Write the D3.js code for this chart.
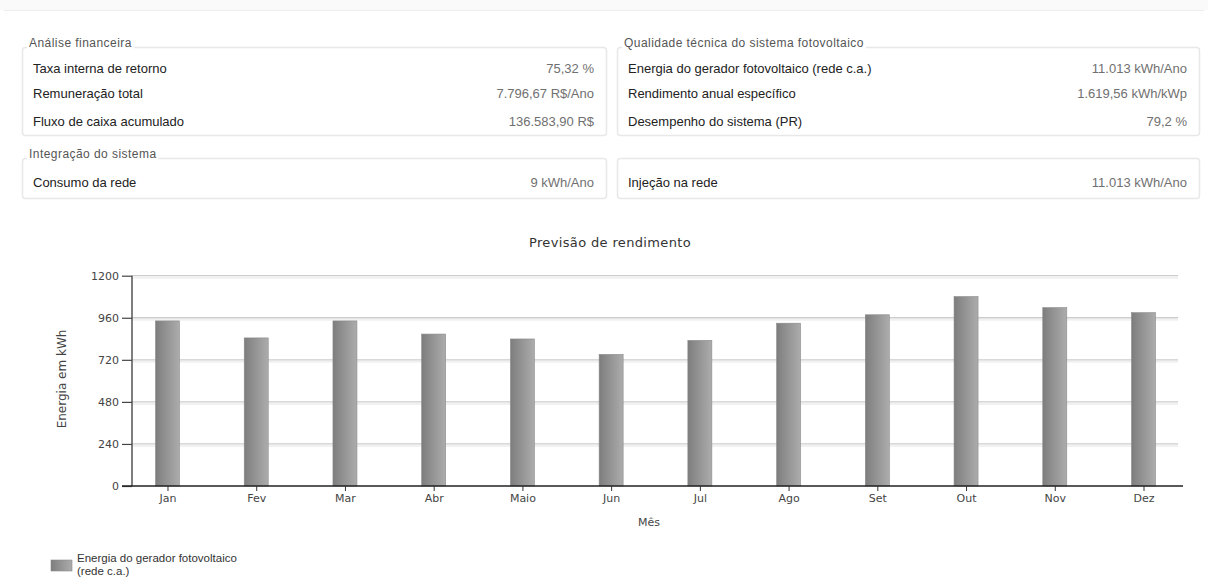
<!DOCTYPE html>
<html>
<head>
<meta charset="utf-8">
<script src="https://cdn.jsdelivr.net/npm/d3@7"></script>
<style>
  html, body { margin: 0; padding: 0; background: #ffffff; }
  svg { display: block; }
</style>
</head>
<body>
<svg id="chart" width="1208" height="585"></svg>
<script>
// ---------- data ----------
const months = ["Jan", "Fev", "Mar", "Abr", "Maio", "Jun", "Jul", "Ago", "Set", "Out", "Nov", "Dez"];
const energy = [942, 845, 942, 867, 839, 751, 831, 929, 977, 1081, 1018, 989];
const yTicks = [0, 240, 480, 720, 960, 1200];
const seriesName = ["Energia do gerador fotovoltaico", "(rede c.a.)"];

const finLabels = ["Taxa interna de retorno", "Remuneração total", "Fluxo de caixa acumulado"];
const finValues = ["75,32 %", "7.796,67 R$/Ano", "136.583,90 R$"];
const techLabels = ["Energia do gerador fotovoltaico (rede c.a.)", "Rendimento anual específico", "Desempenho do sistema (PR)"];
const techValues = ["11.013 kWh/Ano", "1.619,56 kWh/kWp", "79,2 %"];
const intLeftLabels = ["Consumo da rede"];
const intLeftValues = ["9 kWh/Ano"];
const intRightLabels = ["Injeção na rede"];
const intRightValues = ["11.013 kWh/Ano"];

// ---------- setup ----------
const svg = d3.select("#chart");
const panelFont = "'Liberation Sans', Arial, sans-serif";
const chartFont = "'DejaVu Sans', Verdana, sans-serif";

// faint top band
svg.append("rect").attr("x", 0).attr("y", 0).attr("width", 1208).attr("height", 10).attr("fill", "#fafafa");
svg.append("line").attr("x1", 4).attr("x2", 1204).attr("y1", 10.5).attr("y2", 10.5).attr("stroke", "#eeeeee");

// ---------- info panels ----------
function panel(x, w, yTop, yBottom, title, labels, values, rowY) {
  const g = svg.append("g");
  g.append("rect")
    .attr("x", x + 0.5).attr("y", yTop + 0.5)
    .attr("width", w).attr("height", yBottom - yTop)
    .attr("rx", 3)
    .attr("fill", "#ffffff").attr("stroke", "#e8e8e8").attr("stroke-width", 1.5);
  if (title) {
    const t = g.append("text")
      .attr("x", x + 7).attr("y", yTop + 0)
      .attr("font-family", panelFont).attr("font-size", 12)
      .attr("letter-spacing", 0.45)
      .attr("fill", "#555").text(title);
    const bb = t.node().getBBox();
    g.insert("rect", "text")
      .attr("x", bb.x - 2).attr("y", bb.y).attr("width", bb.width + 4).attr("height", bb.height)
      .attr("fill", "#ffffff");
  }
  labels.forEach((l, i) => {
    g.append("text")
      .attr("x", x + 11).attr("y", rowY[i] + 4.5)
      .attr("font-family", panelFont).attr("font-size", 13)
      .attr("fill", "#222").text(l);
    g.append("text")
      .attr("x", x + w - 12).attr("y", rowY[i] + 4.5)
      .attr("text-anchor", "end")
      .attr("font-family", panelFont).attr("font-size", 13)
      .attr("fill", "#707070").text(values[i]);
  });
}
panel(22, 584, 47, 135, "Análise financeira", finLabels, finValues, [68, 93.5, 121]);
panel(617, 582, 47, 135, "Qualidade técnica do sistema fotovoltaico", techLabels, techValues, [68, 93.5, 121]);
panel(22, 584, 158, 198, "Integração do sistema", intLeftLabels, intLeftValues, [182]);
panel(617, 582, 158, 198, null, intRightLabels, intRightValues, [182]);

// ---------- chart ----------
const x0 = 132, x1 = 1179, yBase = 486, yTop = 275.7;
const x = d3.scalePoint().domain(months).range([x0, x1]).padding(0.4);
const y = d3.scaleLinear().domain([0, 1200]).range([yBase, yTop]);
const barW = 24;

const defs = svg.append("defs");
const grad = defs.append("linearGradient").attr("id", "barGrad").attr("x1", "0%").attr("x2", "100%").attr("y1", "0%").attr("y2", "0%");
grad.append("stop").attr("offset", "0%").attr("stop-color", "#7c7c7c");
grad.append("stop").attr("offset", "15%").attr("stop-color", "#858585");
grad.append("stop").attr("offset", "100%").attr("stop-color", "#acacac");

// title
svg.append("text")
  .attr("x", 610).attr("y", 247)
  .attr("text-anchor", "middle")
  .attr("font-family", chartFont).attr("font-size", 13)
  .attr("letter-spacing", 0.35)
  .attr("fill", "#333").text("Previsão de rendimento");

// gridlines
const grid = svg.append("g");
yTicks.filter(d => d > 0).forEach(d => {
  grid.append("line")
    .attr("x1", x0).attr("x2", 1178)
    .attr("y1", y(d) + 2).attr("y2", y(d) + 2)
    .attr("stroke", "#f1f1f1").attr("stroke-width", 2);
  grid.append("line")
    .attr("x1", x0).attr("x2", 1178)
    .attr("y1", y(d)).attr("y2", y(d))
    .attr("stroke", "#cdcdcd").attr("stroke-width", 1.3);
});

// bars
svg.append("g").selectAll("rect")
  .data(energy)
  .join("rect")
  .attr("x", (d, i) => x(months[i]) - barW / 2)
  .attr("y", d => y(d))
  .attr("width", barW)
  .attr("height", d => yBase - y(d))
  .attr("fill", "url(#barGrad)")
  .attr("stroke", "#8a8a8a").attr("stroke-width", 0.6);

// y axis
const yAxis = svg.append("g")
  .attr("transform", `translate(${x0},0)`)
  .call(d3.axisLeft(y).tickValues(yTicks).tickSize(10).tickPadding(3).tickFormat(d3.format("d")));
yAxis.select(".domain").attr("stroke", "#555").attr("stroke-width", 1.5).attr("d", `M0,${yTop}V${yBase}`);
yAxis.selectAll(".tick line").attr("stroke", "#444").attr("stroke-width", 1.2);
yAxis.selectAll(".tick text").attr("font-family", chartFont).attr("font-size", 11).attr("fill", "#444");

// x axis
const xAxis = svg.append("g")
  .attr("transform", `translate(0,${yBase})`)
  .call(d3.axisBottom(x).tickSize(5).tickPadding(3));
xAxis.select(".domain").attr("stroke", "#222").attr("stroke-width", 1.5).attr("d", `M${x0 - 10},0H1183`);
xAxis.selectAll(".tick line").attr("stroke", "#333");
xAxis.selectAll(".tick text").attr("font-family", chartFont).attr("font-size", 11).attr("fill", "#444");

// axis titles
svg.append("text")
  .attr("transform", "translate(66,379) rotate(-90)")
  .attr("text-anchor", "middle")
  .attr("font-family", chartFont).attr("font-size", 12)
  .attr("fill", "#444").text("Energia em kWh");
svg.append("text")
  .attr("x", 649).attr("y", 526)
  .attr("text-anchor", "middle")
  .attr("font-family", chartFont).attr("font-size", 11)
  .attr("fill", "#444").text("Mês");

// legend
const lg = svg.append("g");
lg.append("rect").attr("x", 51).attr("y", 560).attr("width", 21).attr("height", 11)
  .attr("fill", "url(#barGrad)").attr("stroke", "#8a8a8a").attr("stroke-width", 0.6);
lg.selectAll("text").data(seriesName).join("text")
  .attr("x", 77).attr("y", (d, i) => 562 + i * 13)
  .attr("font-family", panelFont).attr("font-size", 11.5)
  .attr("fill", "#333").text(d => d);
</script>
</body>
</html>
